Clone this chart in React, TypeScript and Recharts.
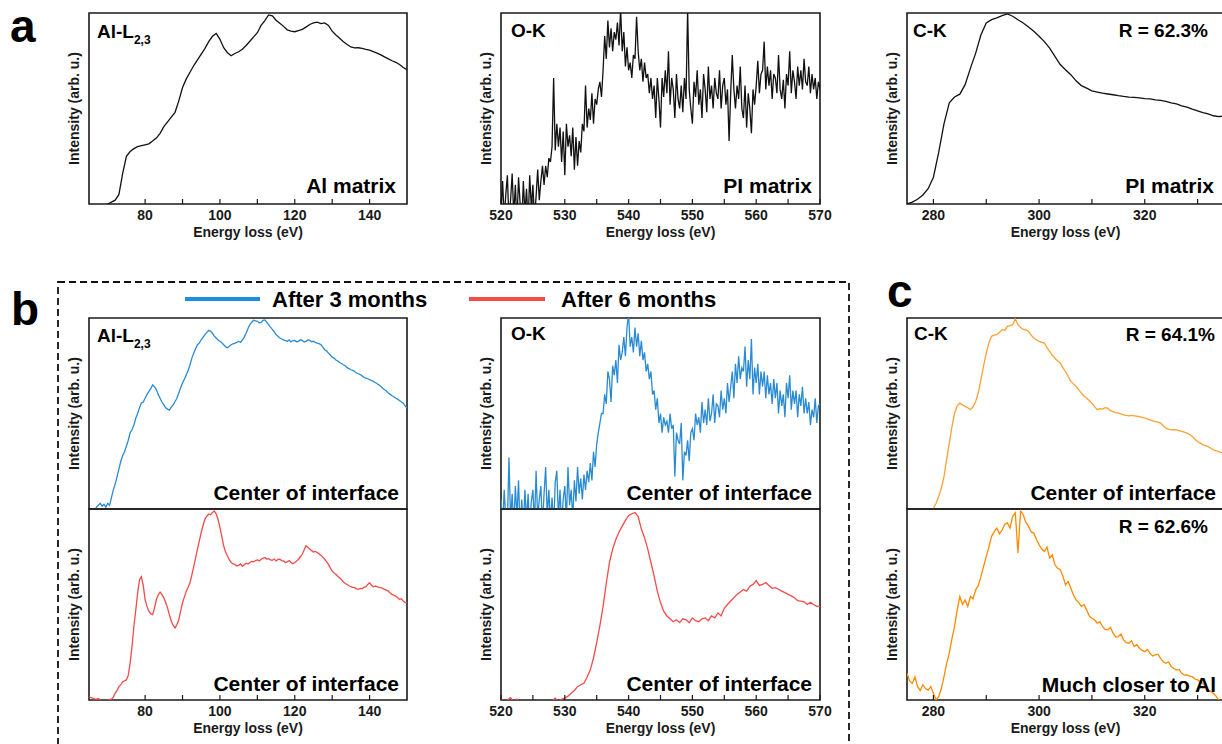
import React from 'react';
import { LineChart, Line, XAxis, YAxis, ReferenceArea } from 'recharts';

// energy grids: start (eV) and step (eV) for each spectrum
const alMatrixStart = 65;
const alMatrixStep = 1;
const alMatrix = [
  -0.06, -0.05, -0.04, -0.03, -0.01, 0.0, 0.01, 0.02, 0.05, 0.16,
  0.25, 0.275, 0.29, 0.3, 0.305, 0.31, 0.315, 0.33, 0.345, 0.37,
  0.405, 0.43, 0.455, 0.48, 0.54, 0.61, 0.655, 0.69, 0.725, 0.755,
  0.785, 0.815, 0.85, 0.878, 0.893, 0.862, 0.818, 0.792, 0.776, 0.788,
  0.797, 0.81, 0.83, 0.852, 0.875, 0.897, 0.935, 0.96, 0.99, 0.985,
  0.962, 0.946, 0.93, 0.912, 0.905, 0.902, 0.908, 0.914, 0.926, 0.94,
  0.948, 0.952, 0.944, 0.948, 0.935, 0.905, 0.885, 0.868, 0.85, 0.835,
  0.822, 0.817, 0.818, 0.815, 0.81, 0.806, 0.798, 0.79, 0.781, 0.77,
  0.76, 0.75, 0.742, 0.73, 0.715, 0.703,
];

const okMatrixStart = 520;
const okMatrixStep = 0.25;
const okMatrix = [
  -0.05, 0.12, -0.08, 0.05, 0.15, -0.1, 0.02, 0.16, -0.06, 0.1, -0.1, 0.14,
  0.0, -0.12, 0.12, -0.05, 0.08, -0.1, 0.15, -0.02, 0.1, -0.08, 0.04, 0.18,
  0.02, 0.12, 0.2, 0.1, 0.2, 0.14, 0.24, 0.22, 0.3, 0.66, 0.28, 0.42,
  0.3, 0.4, 0.22, 0.38, 0.15, 0.42, 0.3, 0.36, 0.25, 0.4, 0.18, 0.35,
  0.2, 0.33, 0.27, 0.42, 0.38, 0.62, 0.4, 0.5, 0.44, 0.58, 0.42, 0.55,
  0.52, 0.6, 0.64, 0.56, 0.7, 0.88, 0.76, 0.96, 0.82, 0.92, 0.8, 0.9,
  0.86, 0.95, 0.83, 1.02, 0.8, 0.9, 0.72, 0.82, 0.7, 0.74, 0.66, 0.78,
  0.76, 0.98, 0.8, 0.7, 0.76, 0.64, 0.74, 0.66, 0.68, 0.58, 0.66, 0.55,
  0.62, 0.45, 0.66, 0.55, 0.4, 0.66, 0.56, 0.7, 0.58, 0.8, 0.52, 0.66,
  0.6, 0.45, 0.68, 0.55, 0.5, 0.62, 0.48, 0.66, 0.55, 1.02, 0.6, 0.5,
  0.42, 0.64, 0.56, 0.7, 0.52, 0.6, 0.45, 0.68, 0.6, 0.48, 0.72, 0.55,
  0.62, 0.5, 0.66, 0.58, 0.55, 0.7, 0.5, 0.62, 0.66, 0.52, 0.6, 0.33,
  0.58, 0.78, 0.6, 0.5, 0.62, 0.55, 0.72, 0.5, 0.45, 0.62, 0.4, 0.58,
  0.5, 0.37, 0.6, 0.52, 0.62, 0.75, 0.58, 0.68, 0.7, 0.85, 0.6, 0.72,
  0.62, 0.7, 0.55, 0.68, 0.66, 0.58, 0.78, 0.6, 0.55, 0.65, 0.5, 0.68,
  0.62, 0.8, 0.58, 0.7, 0.64, 0.55, 0.72, 0.62, 0.7, 0.6, 0.76, 0.64,
  0.62, 0.72, 0.58, 0.68, 0.6, 0.66, 0.55, 0.64, 0.6,
];

const ckMatrixStart = 275;
const ckMatrixStep = 1;
const ckMatrix = [
  0.0, 0.01, 0.025, 0.047, 0.08, 0.14, 0.27, 0.42, 0.53, 0.56,
  0.575, 0.625, 0.71, 0.79, 0.886, 0.948, 0.965, 0.974, 0.986, 0.995,
  0.983, 0.965, 0.948, 0.927, 0.904, 0.878, 0.85, 0.816, 0.773, 0.73,
  0.703, 0.677, 0.645, 0.62, 0.607, 0.592, 0.586, 0.58, 0.576, 0.572,
  0.567, 0.563, 0.56, 0.558, 0.556, 0.552, 0.55, 0.545, 0.542, 0.537,
  0.53, 0.524, 0.514, 0.507, 0.497, 0.488, 0.479, 0.472, 0.462, 0.458,
  0.46,
];

const alThreeStart = 65;
const alThreeStep = 0.5;
const alThree = [
  -0.05, -0.04, -0.03, -0.01, 0.01, 0.02, 0.03, 0.015, 0.025, 0.01,
  0.03, 0.02, 0.06, 0.1, 0.13, 0.17, 0.21, 0.25, 0.28, 0.3,
  0.33, 0.36, 0.4, 0.415, 0.44, 0.475, 0.5, 0.53, 0.555, 0.56,
  0.58, 0.6, 0.615, 0.63, 0.65, 0.64, 0.625, 0.6, 0.58, 0.56,
  0.545, 0.53, 0.523, 0.518, 0.533, 0.545, 0.563, 0.58, 0.607, 0.635,
  0.66, 0.68, 0.703, 0.725, 0.755, 0.79, 0.816, 0.84, 0.86, 0.87,
  0.886, 0.9, 0.913, 0.925, 0.935, 0.93, 0.92, 0.905, 0.895, 0.885,
  0.878, 0.87, 0.86, 0.85, 0.843, 0.852, 0.86, 0.865, 0.868, 0.872,
  0.878, 0.872, 0.886, 0.9, 0.92, 0.945, 0.965, 0.978, 0.988, 0.985,
  0.983, 0.975, 0.977, 0.988, 0.99, 0.978, 0.965, 0.952, 0.94, 0.928,
  0.913, 0.905, 0.895, 0.89, 0.886, 0.882, 0.878, 0.885, 0.875, 0.882,
  0.883, 0.876, 0.878, 0.886, 0.883, 0.874, 0.878, 0.885, 0.883, 0.876,
  0.878, 0.872, 0.868, 0.866, 0.86, 0.848, 0.834, 0.828, 0.816, 0.806,
  0.795, 0.79, 0.78, 0.775, 0.767, 0.762, 0.755, 0.75, 0.74, 0.735,
  0.729, 0.726, 0.72, 0.712, 0.708, 0.704, 0.697, 0.69, 0.685, 0.682,
  0.677, 0.672, 0.668, 0.662, 0.656, 0.65, 0.642, 0.632, 0.624, 0.618,
  0.607, 0.6, 0.593, 0.588, 0.58, 0.575, 0.568, 0.56, 0.554, 0.54,
  0.528,
];

const alSixStart = 65;
const alSixStep = 0.5;
const alSix = [
  0.018, 0.012, 0.01, 0.006, 0.004, 0.008, 0.0, -0.004, -0.008, -0.004,
  0.0, 0.002, 0.004, 0.015, 0.035, 0.05, 0.07, 0.08, 0.096, 0.1,
  0.105, 0.13, 0.193, 0.28, 0.386, 0.47, 0.56, 0.63, 0.646, 0.6,
  0.526, 0.49, 0.465, 0.452, 0.447, 0.48, 0.526, 0.55, 0.565, 0.552,
  0.535, 0.51, 0.482, 0.445, 0.412, 0.39, 0.377, 0.395, 0.42, 0.465,
  0.509, 0.54, 0.57, 0.59, 0.614, 0.655, 0.7, 0.745, 0.79, 0.835,
  0.877, 0.915, 0.947, 0.962, 0.974, 0.97, 0.982, 0.99, 0.974, 0.945,
  0.904, 0.855, 0.807, 0.775, 0.754, 0.735, 0.72, 0.712, 0.71, 0.702,
  0.705, 0.712, 0.7, 0.708, 0.716, 0.712, 0.72, 0.726, 0.723, 0.73,
  0.733, 0.728, 0.737, 0.742, 0.746, 0.738, 0.74, 0.734, 0.732, 0.738,
  0.728, 0.736, 0.737, 0.73, 0.728, 0.72, 0.723, 0.73, 0.72, 0.714,
  0.72, 0.728, 0.737, 0.75, 0.763, 0.785, 0.807, 0.8, 0.79, 0.782,
  0.775, 0.778, 0.772, 0.765, 0.758, 0.748, 0.737, 0.725, 0.71, 0.692,
  0.675, 0.665, 0.658, 0.648, 0.64, 0.63, 0.618, 0.61, 0.605, 0.598,
  0.593, 0.59, 0.588, 0.582, 0.579, 0.584, 0.582, 0.59, 0.593, 0.605,
  0.614, 0.6, 0.593, 0.596, 0.593, 0.59, 0.588, 0.584, 0.579, 0.575,
  0.57, 0.56, 0.553, 0.548, 0.544, 0.535, 0.526, 0.53, 0.518, 0.51,
  0.509,
];

const okThreeStart = 520;
const okThreeStep = 0.25;
const okThree = [
  0.05, -0.1, 0.1, -0.05, -0.08, 0.27, -0.06, 0.08, -0.1, 0.12, -0.04, 0.15,
  -0.12, 0.05, -0.1, 0.1, -0.06, 0.08, -0.12, 0.04, 0.1, -0.08, 0.2, -0.05,
  0.05, 0.12, -0.1, 0.08, 0.22, -0.04, 0.1, -0.08, 0.06, -0.1, 0.14, 0.2,
  -0.05, 0.1, -0.08, 0.05, 0.12, -0.06, 0.22, 0.02, 0.1, -0.05, 0.15, 0.04,
  0.22, 0.08, 0.16, 0.05, 0.18, 0.1, 0.2, 0.14, 0.24, 0.15, 0.3, 0.22,
  0.34, 0.4, 0.45, 0.5, 0.5, 0.6, 0.55, 0.72, 0.68, 0.56, 0.75, 0.7,
  0.78, 0.66, 0.86, 0.78, 0.82, 0.9, 0.8, 0.95, 1.02, 0.85, 0.9, 0.82,
  0.95, 0.85, 0.92, 0.8, 0.88, 0.78, 0.82, 0.72, 0.76, 0.68, 0.72, 0.6,
  0.62, 0.52, 0.58, 0.45, 0.5, 0.4, 0.48, 0.44, 0.46, 0.4, 0.5, 0.42,
  0.44, 0.17, 0.4, 0.36, 0.34, 0.45, 0.15, 0.3, 0.28, 0.36, 0.25, 0.4,
  0.42, 0.36, 0.5, 0.44, 0.48, 0.4, 0.56, 0.45, 0.52, 0.44, 0.58, 0.46,
  0.5, 0.6, 0.45, 0.55, 0.54, 0.48, 0.62, 0.52, 0.58, 0.5, 0.66, 0.56,
  0.64, 0.72, 0.58, 0.76, 0.66, 0.8, 0.68, 0.74, 0.72, 0.85, 0.64, 0.78,
  0.68, 0.89, 0.6, 0.74, 0.66, 0.76, 0.6, 0.72, 0.64, 0.72, 0.58, 0.7,
  0.6, 0.66, 0.55, 0.68, 0.58, 0.66, 0.5, 0.62, 0.54, 0.6, 0.48, 0.66,
  0.58, 0.7, 0.52, 0.62, 0.55, 0.62, 0.48, 0.6, 0.54, 0.64, 0.5, 0.58,
  0.5, 0.56, 0.44, 0.52, 0.48, 0.58, 0.45, 0.54, 0.55,
];

const okSixStart = 520;
const okSixStep = 0.5;
const okSix = [
  0.01, -0.01, 0.0, 0.012, -0.01, 0.005, -0.02, -0.01, -0.015, -0.005,
  -0.02, -0.01, -0.02, -0.015, -0.01, -0.02, -0.005, 0.01, -0.01, 0.005,
  0.01, 0.02, 0.035, 0.05, 0.07, 0.08, 0.088, 0.12, 0.158, 0.22,
  0.3, 0.39, 0.49, 0.61, 0.72, 0.79, 0.84, 0.88, 0.91, 0.94,
  0.965, 0.975, 0.982, 0.96, 0.895, 0.85, 0.79, 0.72, 0.65, 0.57,
  0.51, 0.465, 0.44, 0.425, 0.41, 0.42, 0.405, 0.425, 0.42, 0.405,
  0.43, 0.415, 0.41, 0.425, 0.43, 0.415, 0.44, 0.43, 0.456, 0.44,
  0.48, 0.5, 0.518, 0.535, 0.553, 0.566, 0.579, 0.57, 0.596, 0.605,
  0.625, 0.6, 0.605, 0.615, 0.6, 0.585, 0.588, 0.58, 0.57, 0.562,
  0.553, 0.545, 0.535, 0.52, 0.518, 0.514, 0.5, 0.512, 0.5, 0.49,
  0.49,
];

const ckThreeStart = 275;
const ckThreeStep = 0.5;
const ckThree = [
  -0.08, -0.07, -0.06, -0.05, -0.05, -0.04, -0.04, -0.03, -0.02, -0.01,
  0.003, 0.03, 0.065, 0.11, 0.17, 0.26, 0.344, 0.43, 0.5, 0.54,
  0.554, 0.545, 0.537, 0.53, 0.52, 0.535, 0.563, 0.61, 0.677, 0.75,
  0.816, 0.87, 0.904, 0.91, 0.913, 0.925, 0.94, 0.935, 0.956, 0.96,
  0.965, 0.995, 0.965, 0.95, 0.94, 0.938, 0.93, 0.91, 0.895, 0.885,
  0.878, 0.872, 0.869, 0.845, 0.825, 0.805, 0.79, 0.775, 0.764, 0.74,
  0.72, 0.695, 0.668, 0.655, 0.642, 0.625, 0.607, 0.592, 0.58, 0.568,
  0.554, 0.536, 0.52, 0.525, 0.523, 0.53, 0.528, 0.515, 0.51, 0.505,
  0.502, 0.498, 0.493, 0.49, 0.488, 0.49, 0.488, 0.486, 0.484, 0.48,
  0.476, 0.472, 0.467, 0.462, 0.458, 0.455, 0.45, 0.436, 0.423, 0.418,
  0.414, 0.416, 0.414, 0.41, 0.406, 0.402, 0.397, 0.39, 0.38, 0.365,
  0.353, 0.345, 0.336, 0.332, 0.327, 0.318, 0.31, 0.305, 0.3, 0.295,
  0.29,
];

const ckCloseStart = 275;
const ckCloseStep = 0.5;
const ckClose = [
  0.14, 0.1, 0.087, 0.12, 0.07, 0.05, 0.08, 0.06, 0.052, 0.07,
  0.035, 0.0, 0.017, 0.06, 0.122, 0.19, 0.245, 0.32, 0.385, 0.47,
  0.542, 0.5, 0.524, 0.49, 0.542, 0.53, 0.577, 0.6, 0.647, 0.7,
  0.752, 0.8, 0.857, 0.88, 0.9, 0.87, 0.89, 0.92, 0.927, 0.9,
  0.962, 0.98, 0.77, 0.99, 0.97, 0.93, 0.91, 0.88, 0.874, 0.84,
  0.813, 0.79, 0.778, 0.8, 0.743, 0.76, 0.708, 0.69, 0.682, 0.65,
  0.603, 0.62, 0.586, 0.55, 0.524, 0.51, 0.49, 0.5, 0.472, 0.44,
  0.428, 0.42, 0.402, 0.41, 0.385, 0.37, 0.367, 0.38, 0.35, 0.33,
  0.332, 0.345, 0.315, 0.3, 0.297, 0.31, 0.28, 0.29, 0.271, 0.26,
  0.253, 0.265, 0.245, 0.23, 0.236, 0.24, 0.218, 0.2, 0.192, 0.2,
  0.175, 0.165, 0.157, 0.16, 0.14, 0.13, 0.131, 0.125, 0.122, 0.11,
  0.105, 0.095, 0.087, 0.07, 0.052, 0.045, 0.035, 0.02, 0.0, -0.01,
  -0.02,
];

// axis ticks
const alTicks = [80, 90, 100, 110, 120, 130, 140];
const okTicks = [520, 525, 530, 535, 540, 545, 550, 555, 560, 565, 570];
const ckTicks = [280, 290, 300, 310, 320, 330];
const yTicks5 = [0.2, 0.4, 0.6, 0.8];
const yTicks6 = [1 / 6, 2 / 6, 3 / 6, 4 / 6, 5 / 6];
const yTicksOk = [0.06, 0.178, 0.296, 0.414, 0.531, 0.649, 0.767, 0.885];

type Row = { e: number; v: number };
const rows = (start: number, step: number, vals: number[]): Row[] =>
  vals.map((v, i) => ({ e: +(start + i * step).toFixed(2), v }));

const INK = '#1a1a1a';
const FONT = '"Liberation Sans", Arial, sans-serif';

interface PanelProps {
  x: number;
  y: number;
  w: number;
  h: number;
  domain: [number, number];
  xTicks: number[];
  labelEvery: number;
  yTicks: number[];
  data: Row[];
  color: string;
  showX?: boolean;
}

function Panel({ x, y, w, h, domain, xTicks, labelEvery, yTicks, data, color, showX = true }: PanelProps) {
  const axisH = showX ? 37 : 1;
  return (
    <div style={{ position: 'absolute', left: x - 50, top: y - 2 }}>
      <LineChart
        width={w + 66}
        height={h + 2 + axisH}
        data={data}
        margin={{ top: 2, right: 16, bottom: 0, left: 20 }}
      >
        <XAxis
          type="number"
          dataKey="e"
          domain={domain}
          allowDataOverflow
          ticks={xTicks}
          interval={0}
          height={axisH}
          axisLine={false}
          tickSize={-5}
          tickMargin={11}
          tickLine={{ stroke: INK, strokeWidth: 1.2 }}
          tick={showX ? { fill: INK, fontSize: 14, fontWeight: 700 } : false}
          tickFormatter={(t: number) => (t % labelEvery === 0 ? String(t) : '')}
          label={
            showX
              ? { value: 'Energy loss (eV)', position: 'insideBottom', offset: 4, fill: INK, fontSize: 14, fontWeight: 700 }
              : undefined
          }
        />
        <YAxis
          type="number"
          domain={[0, 1]}
          allowDataOverflow
          ticks={yTicks}
          width={30}
          axisLine={false}
          tick={false}
          tickSize={-5}
          tickLine={{ stroke: INK, strokeWidth: 1.2 }}
          label={{ value: 'Intensity (arb. u.)', angle: -90, position: 'center', fill: INK, fontSize: 14, fontWeight: 700 }}
        />
        <ReferenceArea
          x1={domain[0]}
          x2={domain[1]}
          y1={0}
          y2={1}
          fill="none"
          fillOpacity={0}
          stroke={INK}
          strokeWidth={1.6}
          strokeOpacity={1}
        />
        <Line type="linear" dataKey="v" stroke={color} strokeWidth={1.3} dot={false} isAnimationActive={false} />
      </LineChart>
    </div>
  );
}

const BLUE = '#2a8bd3';
const RED = '#f54a4a';

function Overlay() {
  const big = { fontSize: 46, fontWeight: 700, fill: '#000' };
  const lab = { fontSize: 19, fontWeight: 700, fill: '#000' };
  const note = { fontSize: 21, fontWeight: 700, fill: '#000', textAnchor: 'end' as const };
  const sub = (x: number, y: number) => (
    <text x={x} y={y} {...lab}>
      Al-L<tspan fontSize={12} dy={6}>2,3</tspan>
    </text>
  );
  return (
    <svg width={1222} height={744} style={{ position: 'absolute', left: 0, top: 0, pointerEvents: 'none' }}>
      <text x={10} y={42} {...big}>a</text>
      <text x={11} y={325} {...big}>b</text>
      <text x={887} y={307} {...big}>c</text>

      <rect x={58} y={282} width={791} height={480} fill="none" stroke="#111" strokeWidth={1.8} strokeDasharray="7 4" />
      <line x1={185} y1={299} x2={260} y2={299} stroke="#1a8ee0" strokeWidth={4} />
      <text x={272} y={307} fontSize={22} fontWeight={700} fill="#000">After 3 months</text>
      <line x1={469} y1={299} x2={545} y2={299} stroke="#f54a4a" strokeWidth={4} />
      <text x={561} y={307} fontSize={22} fontWeight={700} fill="#000">After 6 months</text>

      {sub(97, 38)}
      <text x={511} y={37} {...lab}>O-K</text>
      <text x={913} y={37} {...lab}>C-K</text>
      <text x={1208} y={37} {...lab} textAnchor="end">R = 62.3%</text>
      <text x={396} y={193} {...note}>Al matrix</text>
      <text x={812} y={193} {...note}>PI matrix</text>
      <text x={1214} y={193} {...note}>PI matrix</text>

      {sub(97, 342)}
      <text x={511} y={340} {...lab}>O-K</text>
      <text x={914} y={340} {...lab}>C-K</text>
      <text x={1215} y={341} {...lab} textAnchor="end">R = 64.1%</text>
      <text x={1208} y={533} {...lab} textAnchor="end">R = 62.6%</text>
      <text x={399} y={500} {...note}>Center of interface</text>
      <text x={399} y={691} {...note}>Center of interface</text>
      <text x={812} y={500} {...note}>Center of interface</text>
      <text x={812} y={691} {...note}>Center of interface</text>
      <text x={1216} y={500} {...note}>Center of interface</text>
      <text x={1216} y={692} {...note}>Much closer to Al</text>
    </svg>
  );
}

export default function App() {
  return (
    <div
      style={{
        position: 'fixed',
        left: 0,
        top: 0,
        width: 1222,
        height: 744,
        overflow: 'hidden',
        background: '#fff',
        fontFamily: FONT,
      }}
    >
      {/* a: reference spectra */}
      <Panel x={89} y={13} w={318} h={191} domain={[65, 150]} xTicks={alTicks} labelEvery={20} yTicks={yTicks5}
        data={rows(alMatrixStart, alMatrixStep, alMatrix)} color="#111" />
      <Panel x={501} y={13} w={319} h={191} domain={[520, 570]} xTicks={okTicks} labelEvery={10} yTicks={yTicksOk}
        data={rows(okMatrixStart, okMatrixStep, okMatrix)} color="#111" />
      <Panel x={907} y={13} w={317} h={191} domain={[275, 335]} xTicks={ckTicks} labelEvery={20} yTicks={yTicks5}
        data={rows(ckMatrixStart, ckMatrixStep, ckMatrix)} color="#111" />

      {/* b: aged interface, Al and O edges */}
      <Panel x={89} y={318} w={318} h={191} domain={[65, 150]} xTicks={alTicks} labelEvery={20} yTicks={yTicks5}
        data={rows(alThreeStart, alThreeStep, alThree)} color={BLUE} showX={false} />
      <Panel x={89} y={509} w={318} h={191} domain={[65, 150]} xTicks={alTicks} labelEvery={20} yTicks={yTicks5}
        data={rows(alSixStart, alSixStep, alSix)} color={RED} />
      <Panel x={501} y={318} w={319} h={191} domain={[520, 570]} xTicks={okTicks} labelEvery={10} yTicks={yTicks6}
        data={rows(okThreeStart, okThreeStep, okThree)} color={BLUE} showX={false} />
      <Panel x={501} y={509} w={319} h={191} domain={[520, 570]} xTicks={okTicks} labelEvery={10} yTicks={yTicks5}
        data={rows(okSixStart, okSixStep, okSix)} color={RED} />

      {/* c: C-K edge */}
      <Panel x={907} y={318} w={317} h={191} domain={[275, 335]} xTicks={ckTicks} labelEvery={20} yTicks={yTicks5}
        data={rows(ckThreeStart, ckThreeStep, ckThree)} color="#ffa033" showX={false} />
      <Panel x={907} y={509} w={317} h={191} domain={[275, 335]} xTicks={ckTicks} labelEvery={20} yTicks={yTicks6}
        data={rows(ckCloseStart, ckCloseStep, ckClose)} color="#ff8a00" />

      <Overlay />
    </div>
  );
}
